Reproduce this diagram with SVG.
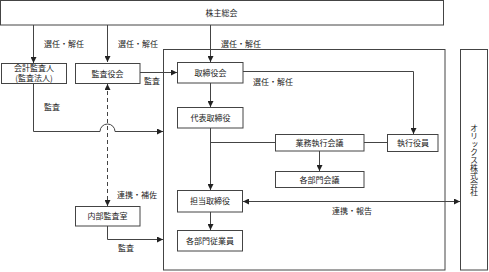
<svg xmlns="http://www.w3.org/2000/svg" width="489" height="272" viewBox="0 0 489 272">
<style>
text{font-family:"Noto Sans CJK JP","Noto Sans CJK SC",sans-serif;font-size:8px;fill:#222;}
.c{text-anchor:middle;}
.box{fill:#fff;stroke:#444;stroke-width:1;}
.ln{fill:none;stroke:#444;stroke-width:1;}
.dash{stroke-dasharray:4,3;}
</style>
<defs>
<marker id="ah" viewBox="0 0 6 6" refX="6" refY="3" markerWidth="6" markerHeight="6" markerUnits="userSpaceOnUse" orient="auto-start-reverse">
<path d="M0,0 L6,3 L0,6 z" fill="#222"/>
</marker>
</defs>
<rect width="489" height="272" fill="#fff"/>
<g id="container"><rect class="box" x="163.5" y="49.5" width="281.5" height="220.5"/></g>
<g id="connectors">
<path class="ln" d="M33.5,25 V63" marker-end="url(#ah)"/>
<path class="ln" d="M107.5,25 V62" marker-end="url(#ah)"/>
<path class="ln" d="M210.5,25 V62" marker-end="url(#ah)"/>
<path class="ln" d="M140,72.5 H177" marker-end="url(#ah)"/>
<path class="ln" d="M33.5,83 V131.5 H100 A7.5,7.5 0 0 1 115,131.5 H163" marker-end="url(#ah)"/>
<path class="ln dash" d="M107.5,84 V206" marker-start="url(#ah)" marker-end="url(#ah)"/>
<path class="ln" d="M107.5,226 V239.5 H163" marker-end="url(#ah)"/>
<path class="ln" d="M210.5,83 V107" marker-end="url(#ah)"/>
<path class="ln" d="M243,71.5 H413.5 V134" marker-end="url(#ah)"/>
<path class="ln" d="M210.5,128 V190" marker-end="url(#ah)"/>
<path class="ln" d="M210.5,142.5 H275"/>
<path class="ln" d="M364,142.5 H387"/>
<path class="ln" d="M319.5,151 V171" marker-end="url(#ah)"/>
<path class="ln" d="M210.5,212 V230" marker-end="url(#ah)"/>
<path class="ln" d="M243,201.5 H460" marker-start="url(#ah)" marker-end="url(#ah)"/>
</g>
<g id="labels">
<text x="44" y="47">選任・解任</text>
<text x="118" y="47">選任・解任</text>
<text x="221" y="47">選任・解任</text>
<text x="144" y="84">監査</text>
<text x="44" y="110">監査</text>
<text x="253" y="85">選任・解任</text>
<text x="117" y="198">連携・補佐</text>
<text x="118" y="251">監査</text>
<text class="c" x="352" y="214">連携・報告</text>
</g>
<g id="n-shareholders"><rect class="box" x="0.5" y="0.5" width="443" height="24.5"/><text class="c" x="221.5" y="16">株主総会</text></g>
<g id="n-auditor"><rect class="box" x="1.5" y="63.5" width="65" height="20"/><text class="c" x="34" y="71">会計監査人</text><text class="c" x="34" y="80.5">(監査法人)</text></g>
<g id="n-kansayaku"><rect class="box" x="75.5" y="63.5" width="64.5" height="20"/><text class="c" x="107.5" y="76.5">監査役会</text></g>
<g id="n-board"><rect class="box" x="177.5" y="62.5" width="65.5" height="20.5"/><text class="c" x="210.5" y="76">取締役会</text></g>
<g id="n-ceo"><rect class="box" x="177.5" y="107.5" width="65.5" height="20.5"/><text class="c" x="210.5" y="121">代表取締役</text></g>
<g id="n-exec-meeting"><rect class="box" x="275.5" y="134.5" width="88.5" height="16.5"/><text class="c" x="319.5" y="146">業務執行会議</text></g>
<g id="n-exec-officer"><rect class="box" x="387.5" y="134.5" width="50.5" height="17"/><text class="c" x="413" y="146">執行役員</text></g>
<g id="n-dept-meeting"><rect class="box" x="275.5" y="171.5" width="88.5" height="16"/><text class="c" x="319.5" y="182.5">各部門会議</text></g>
<g id="n-director"><rect class="box" x="177.5" y="190.5" width="65" height="21.5"/><text class="c" x="210" y="204">担当取締役</text></g>
<g id="n-employees"><rect class="box" x="177.5" y="230.5" width="65" height="20.5"/><text class="c" x="210" y="244">各部門従業員</text></g>
<g id="n-internal-audit"><rect class="box" x="75.5" y="206.5" width="64.5" height="19.5"/><text class="c" x="107.5" y="219">内部監査室</text></g>
<g id="n-orix"><rect class="box" x="460.5" y="49.5" width="27" height="220.5"/><text class="c" x="474" y="160" style="writing-mode:vertical-rl">オリックス株式会社</text></g>
</svg>
